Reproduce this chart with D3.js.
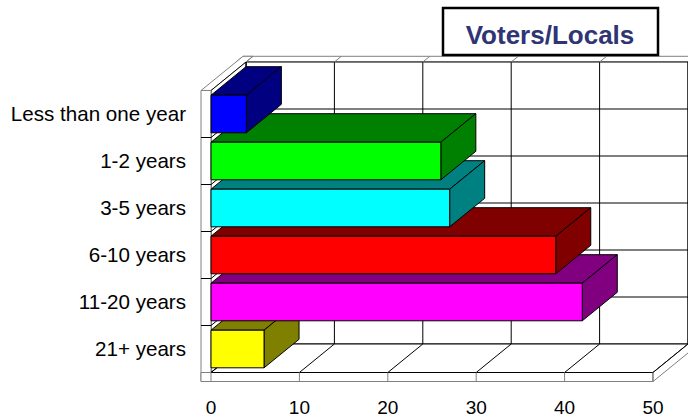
<!DOCTYPE html>
<html>
<head>
<meta charset="utf-8">
<script src="https://cdn.jsdelivr.net/npm/d3@7"></script>
<style>
  html, body { margin: 0; padding: 0; background: #fff; }
  svg { display: block; font-family: "Liberation Sans", Arial, sans-serif; }
</style>
</head>
<body>
<svg id="chart" width="688" height="417"></svg>
<script>
// data
var categories = ["Less than one year", "1-2 years", "3-5 years", "6-10 years", "11-20 years", "21+ years"]
var values = [4, 26, 27, 39, 42, 6]
var frontColors = ["#0000ff", "#00ff00", "#00ffff", "#ff0000", "#ff00ff", "#ffff00"]
var sideColors = ["#000080", "#008000", "#008080", "#800000", "#800080", "#808000"]
var ticks = [0, 10, 20, 30, 40, 50]
var title = "Voters/Locals"

var svg = d3.select("#chart")

// front plane + depth offset
var yTop = 90.5, yBot = 372.5
var DX = 35, DY = -28.5
var wallT = 10, floorT = 9, backT = 0.2

var x = d3.scaleLinear().domain([0, 50]).range([211, 653])
var y = d3.scaleBand().domain(categories).range([yTop, yBot])
    .paddingInner(0.2).paddingOuter(0.1)

var X0 = x(0), X1 = x(50)
function P(px, py, z) { return [px + z * DX, py + z * DY] }
function poly(pts, fill, stroke) {
    svg.append("polygon")
        .attr("points", pts.map(function(p) { return p.join(",") }).join(" "))
        .attr("fill", fill).attr("stroke", stroke || "#000")
        .attr("stroke-width", 1).attr("stroke-linejoin", "round")
}
function line(a, b, color) {
    svg.append("line")
        .attr("x1", a[0]).attr("y1", a[1]).attr("x2", b[0]).attr("y2", b[1])
        .attr("stroke", color || "#000").attr("stroke-width", 1)
}

// back wall
poly([P(X0 - wallT, yTop, 1 + backT), P(X1, yTop, 1 + backT), P(X1, yTop, 1), P(X0 - wallT, yTop, 1)], "#fff", "#808080")
poly([P(X0, yTop, 1), P(X1, yTop, 1), P(X1, yBot, 1), P(X0, yBot, 1)], "#fff", "#000")

// left wall
poly([P(X0 - wallT, yTop, 0), P(X0, yTop, 0), P(X0, yTop, 1 + backT), P(X0 - wallT, yTop, 1 + backT)], "#fff", "#808080")
poly([P(X0, yTop, 0), P(X0, yTop, 1), P(X0, yBot, 1), P(X0, yBot, 0)], "#fff", "#000")
poly([[X0 - wallT, yTop], [X0, yTop], [X0, yBot + floorT], [X0 - wallT, yBot + floorT]], "#fff", "#808080")

// floor
poly([P(X0, yBot, 0), P(X1, yBot, 0), P(X1, yBot, 1), P(X0, yBot, 1)], "#fff", "#000")
poly([[X0 - wallT, yBot], [X1, yBot], [X1, yBot + floorT], [X0 - wallT, yBot + floorT]], "#fff", "#808080")
poly([P(X1, yBot, 0), P(X1, yBot, 1 + backT), P(X1, yBot + floorT, 1 + backT), P(X1, yBot + floorT, 0)], "#fff", "#808080")
line([X0, yBot], [X1, yBot])

// value gridlines: back wall, floor and their edges
ticks.forEach(function(t) {
    var xv = x(t)
    line(P(xv, yTop, 1), P(xv, yBot, 1))
    line(P(xv, yTop, 1), P(xv, yTop, 1 + backT), "#808080")
    line(P(xv, yBot, 0), P(xv, yBot, 1))
    line([xv, yBot], [xv, yBot + floorT], "#808080")
})

// category gridlines: back wall, left wall
var bounds = d3.range(1, categories.length).map(function(i) { return yTop + i * y.step() })
bounds.forEach(function(yb) {
    line(P(X0, yb, 1), P(X1, yb, 1))
    line(P(X0, yb, 0), P(X0, yb, 1))
    line([X0 - wallT, yb], [X0, yb])
})

// bars, bottom first so the upper front faces cover the lower tops
d3.range(categories.length - 1, -1, -1).forEach(function(i) {
    var yt = y(categories[i]), h = y.bandwidth(), xv = x(values[i])
    poly([P(X0, yt, 0), P(xv, yt, 0), P(xv, yt, 1), P(X0, yt, 1)], sideColors[i])
    poly([P(xv, yt, 0), P(xv, yt, 1), P(xv, yt + h, 1), P(xv, yt + h, 0)], sideColors[i])
    poly([[X0, yt], [xv, yt], [xv, yt + h], [X0, yt + h]], frontColors[i])
})

// category labels
svg.selectAll(".cat").data(categories).enter().append("text")
    .attr("class", "cat")
    .attr("x", 186)
    .attr("y", function(d) { return y(d) + y.bandwidth() / 2 })
    .attr("dy", "0.35em")
    .attr("text-anchor", "end")
    .attr("font-size", 20.6)
    .attr("fill", "#000")
    .text(function(d) { return d })

// value labels
svg.selectAll(".tick").data(ticks).enter().append("text")
    .attr("class", "tick")
    .attr("x", function(d) { return x(d) })
    .attr("y", 414)
    .attr("text-anchor", "middle")
    .attr("font-size", 19)
    .attr("fill", "#000")
    .text(function(d) { return d })

// title box
svg.append("rect").attr("x", 443).attr("y", 8).attr("width", 215).attr("height", 47)
    .attr("fill", "#fff").attr("stroke", "#000").attr("stroke-width", 2.5)
svg.append("text")
    .attr("x", 550).attr("y", 44)
    .attr("text-anchor", "middle")
    .attr("font-size", 26).attr("font-weight", "bold")
    .attr("fill", "#2f3474")
    .text(title)
</script>
</body>
</html>
